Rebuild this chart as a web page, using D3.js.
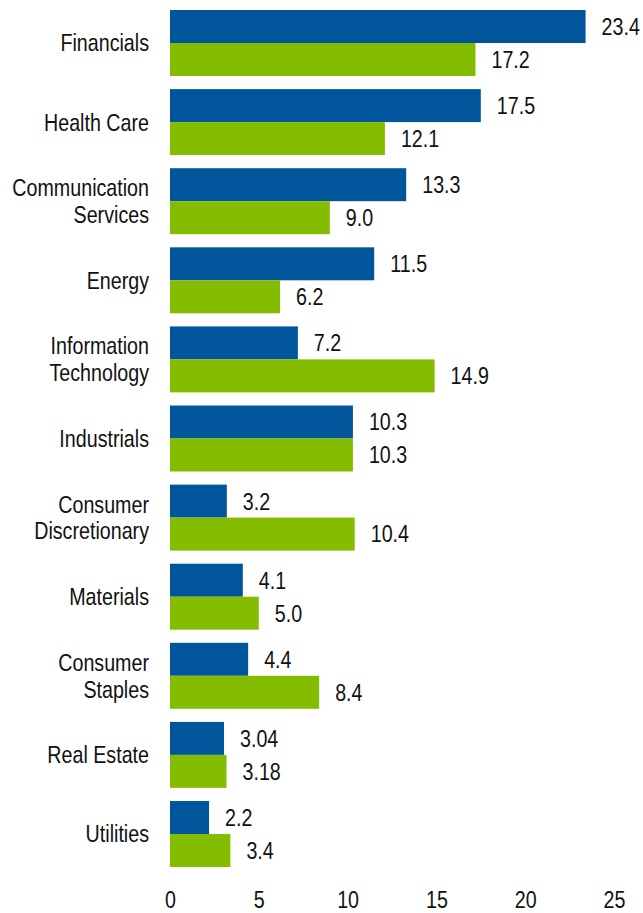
<!DOCTYPE html>
<html>
<head>
<meta charset="utf-8">
<script src="https://cdn.jsdelivr.net/npm/d3@7"></script>
<style>
  html, body { margin: 0; padding: 0; background: #ffffff; }
  svg { display: block; }
  text { font-family: "Liberation Sans", Arial, sans-serif; fill: #111; }
</style>
</head>
<body>
<svg id="chart" width="643" height="913"></svg>
<script>
const categories = [
  ["Financials"],
  ["Health Care"],
  ["Communication", "Services"],
  ["Energy"],
  ["Information", "Technology"],
  ["Industrials"],
  ["Consumer", "Discretionary"],
  ["Materials"],
  ["Consumer", "Staples"],
  ["Real Estate"],
  ["Utilities"]
];
const seriesA = [23.4, 17.5, 13.3, 11.5, 7.2, 10.3, 3.2, 4.1, 4.4, 3.04, 2.2];
const seriesB = [17.2, 12.1, 9.0, 6.2, 14.9, 10.3, 10.4, 5.0, 8.4, 3.18, 3.4];
const labelsA = ["23.4", "17.5", "13.3", "11.5", "7.2", "10.3", "3.2", "4.1", "4.4", "3.04", "2.2"];
const labelsB = ["17.2", "12.1", "9.0", "6.2", "14.9", "10.3", "10.4", "5.0", "8.4", "3.18", "3.4"];
const xTicks = [0, 5, 10, 15, 20, 25];

const colorA = "#00559B";
const colorB = "#84BD00";
const FS = 24;
const NARROW = 0.82;

const svg = d3.select("#chart");
const x = d3.scaleLinear().domain([0, 25]).range([170, 614]);
const y = d3.scaleBand()
  .domain(d3.range(categories.length))
  .range([3.45, 873.55])
  .paddingInner(0.166)
  .paddingOuter(0.083);
const sub = d3.scaleBand().domain([0, 1]).range([0, y.bandwidth()]);

const g = svg.append("g");
const groups = g.selectAll("g.grp")
  .data(categories.map((c, i) => ({ c, i, a: seriesA[i], b: seriesB[i], la: labelsA[i], lb: labelsB[i] })))
  .join("g")
  .attr("class", "grp")
  .attr("transform", d => `translate(0,${y(d.i)})`);

groups.append("rect")
  .attr("x", x(0))
  .attr("y", sub(0))
  .attr("width", d => x(d.a) - x(0))
  .attr("height", sub.bandwidth())
  .attr("fill", colorA);

groups.append("rect")
  .attr("x", x(0))
  .attr("y", sub(1))
  .attr("width", d => x(d.b) - x(0))
  .attr("height", sub.bandwidth())
  .attr("fill", colorB);

groups.append("text")
  .attr("transform", d => `translate(${x(d.a) + 16},${sub(0) + sub.bandwidth() / 2}) scale(${NARROW},1)`)
  .attr("dy", "0.35em")
  .attr("font-size", FS)
  .text(d => d.la);

groups.append("text")
  .attr("transform", d => `translate(${x(d.b) + 16},${sub(1) + sub.bandwidth() / 2}) scale(${NARROW},1)`)
  .attr("dy", "0.35em")
  .attr("font-size", FS)
  .text(d => d.lb);

// category labels
groups.each(function(d) {
  const cy = y.bandwidth() / 2;
  const t = d3.select(this).append("text")
    .attr("text-anchor", "end")
    .attr("font-size", FS)
    .attr("transform", `translate(149,${cy}) scale(${NARROW},1)`);
  const n = d.c.length;
  const lh = 27;
  d.c.forEach((line, k) => {
    t.append("tspan")
      .attr("x", 0)
      .attr("y", (k - (n - 1) / 2) * lh)
      .attr("dy", "0.35em")
      .text(line);
  });
});

// x axis
const axis = d3.axisBottom(x).tickValues(xTicks).tickSize(0).tickPadding(0);
const ax = svg.append("g").attr("transform", "translate(0,891)").call(axis);
ax.select(".domain").remove();
ax.selectAll("text")
  .attr("font-size", FS)
  .attr("dy", "0.71em")
  .attr("fill", "#111")
  .attr("transform", `scale(${NARROW},1)`)
  .style("font-family", '"Liberation Sans", Arial, sans-serif');
</script>
</body>
</html>
